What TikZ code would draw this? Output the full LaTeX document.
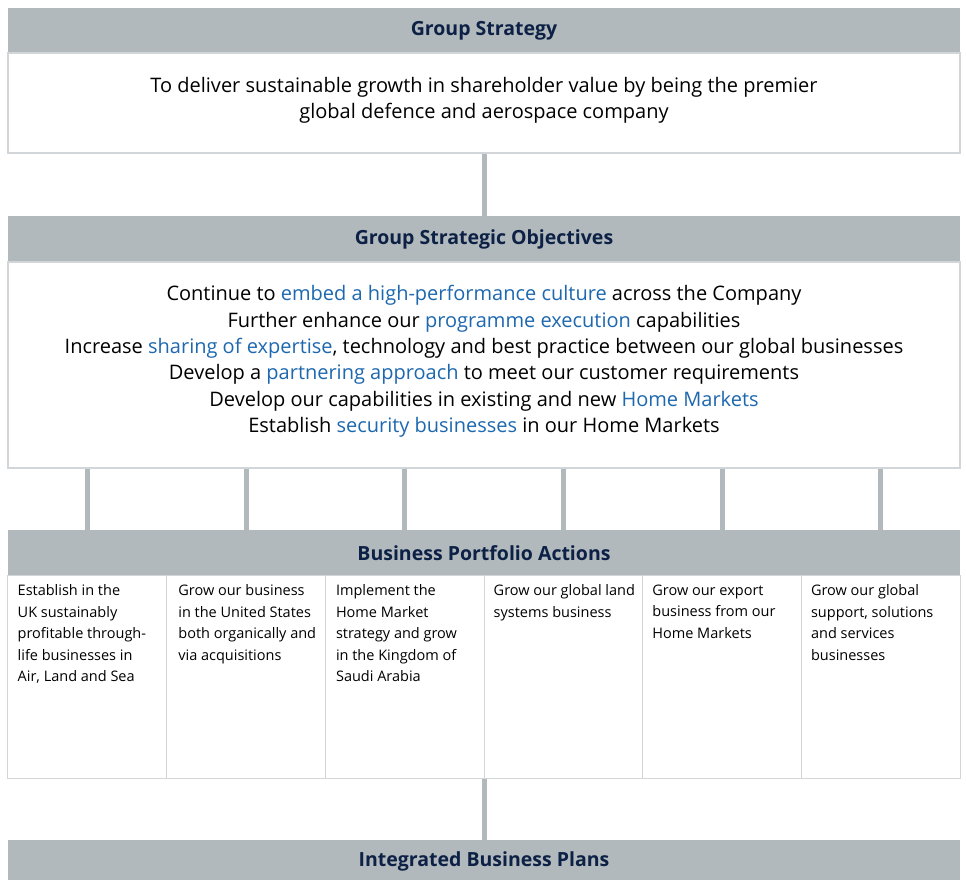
\documentclass[tikz,border=0pt]{standalone}
\usepackage{fontspec}
\setmainfont{Open Sans}
\definecolor{hdr}{HTML}{B2B9BC}
\definecolor{navy}{HTML}{0C2145}
\definecolor{bl}{HTML}{1D68AF}
\definecolor{bord}{HTML}{D2D6D8}
\tikzset{
  hdrbox/.style={fill=hdr, draw=none, minimum width=952pt, inner sep=0pt, text=navy,
    font=\fontsize{19.5}{22}\selectfont\bfseries},
  mainbox/.style={fill=white, draw=bord, line width=1.2pt, minimum width=952pt, inner sep=0pt},
  bodytext/.style={align=center, inner sep=0pt, text=black},
  colbox/.style={fill=white, draw=bord, line width=1pt, minimum width=158.67pt, minimum height=203pt, inner sep=0pt},
  coltext/.style={anchor=north west, align=left, inner sep=0pt,
    font=\fontsize{14.5}{21.5}\selectfont},
  conn/.style={draw=hdr, line width=5pt},
}
\newcommand{\hl}[1]{\textcolor{bl}{#1}}
\begin{document}
\begin{tikzpicture}[x=1pt,y=-1pt]
\useasboundingbox (0,0) rectangle (966,879);
% boxes
\node[hdrbox, minimum height=46pt] (h1) at (484,31) {Group Strategy};
\node[mainbox, minimum height=100pt] (b1) at (484,103) {};
\node[bodytext, font=\fontsize{20}{26}\selectfont] (t1) at (484,100.5)
  {To deliver sustainable growth in shareholder value by being the premier\\global defence and aerospace company};
\node[hdrbox, minimum height=47pt] (h2) at (484,239.5) {Group Strategic Objectives};
\node[mainbox, minimum height=206pt] (b2) at (484,365) {};
\node[bodytext, font=\fontsize{20}{26.4}\selectfont] (t2) at (484,361.5)
  {Continue to \hl{embed a high-performance culture} across the Company\\
   Further enhance our \hl{programme execution} capabilities\\
   Increase \hl{sharing of expertise}, technology and best practice between our global businesses\\
   Develop a \hl{partnering approach} to meet our customer requirements\\
   Develop our capabilities in existing and new \hl{Home Markets}\\
   Establish \hl{security businesses} in our Home Markets};
\node[hdrbox, minimum height=46pt] (h3) at (484,553) {Business Portfolio Actions};
\foreach \i/\cx in {1/87.33,2/246,3/404.67,4/563.33,5/722,6/880.67}{
  \node[colbox] (c\i) at (\cx,676.5) {};
}
\node[coltext] (ct1) at ([xshift=10pt,yshift=-10pt]c1.north west)
  {Establish in the\\UK sustainably\\profitable through-\\life businesses in\\Air, Land and Sea};
\node[coltext] (ct2) at ([xshift=12pt,yshift=-10pt]c2.north west)
  {Grow our business\\in the United States\\both organically and\\via acquisitions};
\node[coltext] (ct3) at ([xshift=11pt,yshift=-10pt]c3.north west)
  {Implement the\\Home Market\\strategy and grow\\in the Kingdom of\\Saudi Arabia};
\node[coltext] (ct4) at ([xshift=10pt,yshift=-10pt]c4.north west)
  {Grow our global land\\systems business};
\node[coltext] (ct5) at ([xshift=10pt,yshift=-10pt]c5.north west)
  {Grow our export\\business from our\\Home Markets};
\node[coltext] (ct6) at ([xshift=10pt,yshift=-10pt]c6.north west)
  {Grow our global\\support, solutions\\and services\\businesses};
\node[hdrbox, minimum height=42pt] (h4) at (484,861) {Integrated Business Plans};
% connectors
\draw[conn] (b1.south) -- (h2.north);
\foreach \i in {1,...,6}{
  \draw[conn] (c\i |- b2.south) -- (c\i |- h3.north);
}
\coordinate (cb) at (c3.south east);
\draw[conn] (cb |- h4.north) -- (cb);
\end{tikzpicture}
\end{document}
